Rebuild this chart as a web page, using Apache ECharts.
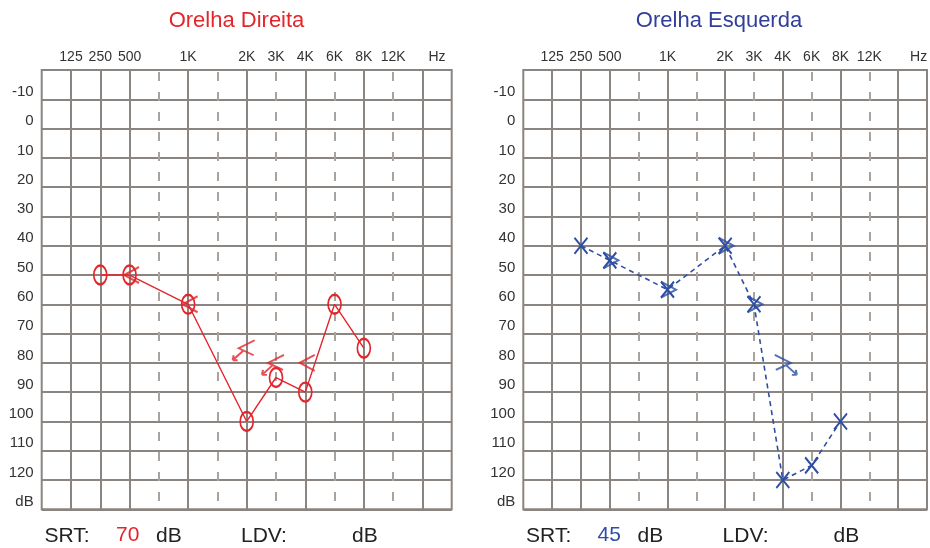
<!DOCTYPE html>
<html>
<head>
<meta charset="utf-8">
<script src="https://cdn.jsdelivr.net/npm/echarts@6/dist/echarts.min.js"></script>
<style>
  html, body { margin: 0; padding: 0; background: #fff; }
  #audio { width: 930px; height: 548px; }
</style>
</head>
<body>
<div id="audio"></div>
<script>
// frequency slots of the audiogram grid (left border .. right border)
const slots = ['lo', '125', '250', '500', '750', '1K', '1.5K', '2K', '3K', '4K', '6K', '8K', '12K', 'x', 'hi'];
const tickLabels = ['', '125', '250', '500', '', '1K', '', '2K', '3K', '4K', '6K', '8K', '12K', '', ''];
const slotLine = ['b', 's', 's', 's', 'd', 's', 'd', 's', 'd', 's', 'd', 's', 'd', 's', 'b'];

// right ear (O, air conduction)
const rightAirFreq = ['250', '500', '1K', '2K', '3K', '4K', '6K', '8K'];
const rightAirDb = [50, 50, 60, 100, 85, 90, 60, 75];
// right ear bone conduction (<)
const rightBoneFreq = ['500', '1K', '2K', '3K', '4K'];
const rightBoneDb = [50, 60, 75, 80, 80];
const rightBoneNoResp = [false, false, true, true, false];

// left ear (X, air conduction)
const leftAirFreq = ['250', '500', '1K', '2K', '3K', '4K', '6K', '8K'];
const leftAirDb = [40, 45, 55, 40, 60, 120, 115, 100];
// left ear bone conduction (>)
const leftBoneFreq = ['500', '1K', '2K', '3K', '4K'];
const leftBoneDb = [45, 55, 40, 60, 80];
const leftBoneNoResp = [false, false, false, false, true];

const titles = ['Orelha Direita', 'Orelha Esquerda'];
const srt = ['70', '45'];

const RED = '#e4252b';
const BLUE = '#2d4ea5';
const GRID = '#8a8580';
const DASH = '#a8a39e';

const ellipsePath = 'path://M10,0C15.52,0,20,4.48,20,10C20,15.52,15.52,20,10,20C4.48,20,0,15.52,0,10C0,4.48,4.48,0,10,0Z';
const crossPath = 'path://M0,0L13,16M13,0L0,16';
const boneR = 'path://M14,0L0,7L14,14';
const boneRNr = 'path://M22,0L6,8L21,15M11,10L0,20M0,20L1,15M0,20L5,20';
const boneL = 'path://M0,0L14,7L0,14';
const boneLNr = 'path://M0,0L16,8L1,15M11,10L22,20M22,20L21,15M22,20L17,20';

const chart = echarts.init(document.getElementById('audio'));

const grids = [
  { left: 41.7, top: 70, width: 410, height: 439.3 },
  { left: 523.3, top: 70, width: 410, height: 439.3 }
];

function xAxes(gi) {
  const solidColors = slotLine.map(t => t === 's' ? GRID : 'transparent');
  const dashColors = slotLine.map(t => t === 'd' ? DASH : 'transparent');
  return [
    {
      gridIndex: gi, type: 'category', position: 'top', data: slots, boundaryGap: false,
      axisLine: { show: false }, axisTick: { show: false },
      axisLabel: {
        interval: 0, margin: 6, color: '#333', fontSize: 14, fontFamily: 'Liberation Sans, Arial',
        formatter: (v, i) => tickLabels[i]
      },
      splitLine: { show: true, interval: 0, lineStyle: { color: solidColors, width: 2 } }
    },
    {
      gridIndex: gi, type: 'category', position: 'top', data: slots, boundaryGap: false,
      axisLine: { show: false }, axisTick: { show: false }, axisLabel: { show: false },
      splitLine: {
        show: true, interval: 0,
        lineStyle: { color: dashColors, width: 2, type: [9, 11], dashOffset: 18 }
      }
    }
  ];
}

function yAxis(gi) {
  return {
    gridIndex: gi, type: 'value', inverse: true, min: -20, max: 130, interval: 10,
    axisLine: { show: false }, axisTick: { show: false },
    axisLabel: {
      margin: 8, color: '#333', fontSize: 15, fontFamily: 'Liberation Sans, Arial',
      verticalAlign: 'bottom',
      formatter: v => v === -20 ? '' : (v === 130 ? 'dB' : String(v))
    },
    splitLine: { show: true, lineStyle: { color: GRID, width: 2 } }
  };
}

function boneData(freq, db, noResp, plain, nr, plainOff, nrOff) {
  return freq.map((f, i) => ({
    value: [f, db[i]],
    symbol: noResp[i] ? nr : plain,
    symbolSize: noResp[i] ? [22, 20] : [15, 16],
    symbolOffset: noResp[i] ? nrOff : plainOff
  }));
}

const textBase = { fontFamily: 'Liberation Sans, Arial', fontSize: 21, fill: '#222', verticalAlign: 'middle' };
const graphics = [];
[0, 481.6].forEach((ox, p) => {
  graphics.push({ type: 'text', x: [236.5, 719][p], y: 21,
    style: { text: titles[p], fill: p ? '#313f98' : '#e3262a', fontSize: 22, fontFamily: 'Liberation Sans, Arial', align: 'center', verticalAlign: 'middle' } });
  graphics.push({ type: 'text', x: 437 + ox, y: 64,
    style: { text: 'Hz', fill: '#333', fontSize: 14, fontFamily: 'Liberation Sans, Arial', align: 'center', verticalAlign: 'bottom' } });
  graphics.push({ type: 'text', x: 44.5 + ox, y: 536, style: Object.assign({}, textBase, { text: 'SRT:' }) });
  graphics.push({ type: 'text', x: 116 + ox, y: 535, style: Object.assign({}, textBase, { text: srt[p], fill: p ? BLUE : RED }) });
  graphics.push({ type: 'text', x: 156 + ox, y: 536, style: Object.assign({}, textBase, { text: 'dB' }) });
  graphics.push({ type: 'text', x: 241 + ox, y: 536, style: Object.assign({}, textBase, { text: 'LDV:' }) });
  graphics.push({ type: 'text', x: 352 + ox, y: 536, style: Object.assign({}, textBase, { text: 'dB' }) });
});

chart.setOption({
  animation: false,
  grid: grids.map(g => Object.assign({ show: true, borderColor: GRID, borderWidth: 2, containLabel: false }, g)),
  xAxis: xAxes(0).concat(xAxes(1)),
  yAxis: [yAxis(0), yAxis(1)],
  graphic: graphics,
  series: [
    {
      name: 'OD via aérea', type: 'line', xAxisIndex: 0, yAxisIndex: 0,
      data: rightAirFreq.map((f, i) => [f, rightAirDb[i]]),
      symbol: ellipsePath, symbolSize: [13, 19], showAllSymbol: true,
      itemStyle: { color: 'transparent', borderColor: RED, borderWidth: 2 },
      lineStyle: { color: RED, width: 1.4 }, silent: true
    },
    {
      name: 'OD via óssea', type: 'scatter', xAxisIndex: 0, yAxisIndex: 0,
      data: boneData(rightBoneFreq, rightBoneDb, rightBoneNoResp, boneR, boneRNr, [2, 0], [-3, 2]),
      itemStyle: { color: 'transparent', borderColor: RED, borderWidth: 2 }, silent: true
    },
    {
      name: 'OE via aérea', type: 'line', xAxisIndex: 2, yAxisIndex: 1,
      data: leftAirFreq.map((f, i) => [f, leftAirDb[i]]),
      symbol: crossPath, symbolSize: [13, 16], showAllSymbol: true,
      itemStyle: { color: 'transparent', borderColor: BLUE, borderWidth: 2 },
      lineStyle: { color: BLUE, width: 1.6, type: [5, 4] }, silent: true
    },
    {
      name: 'OE via óssea', type: 'scatter', xAxisIndex: 2, yAxisIndex: 1,
      data: boneData(leftBoneFreq, leftBoneDb, leftBoneNoResp, boneL, boneLNr, [1, 0], [3, 2]),
      itemStyle: { color: 'transparent', borderColor: BLUE, borderWidth: 2 }, silent: true
    }
  ]
});
</script>
</body>
</html>
